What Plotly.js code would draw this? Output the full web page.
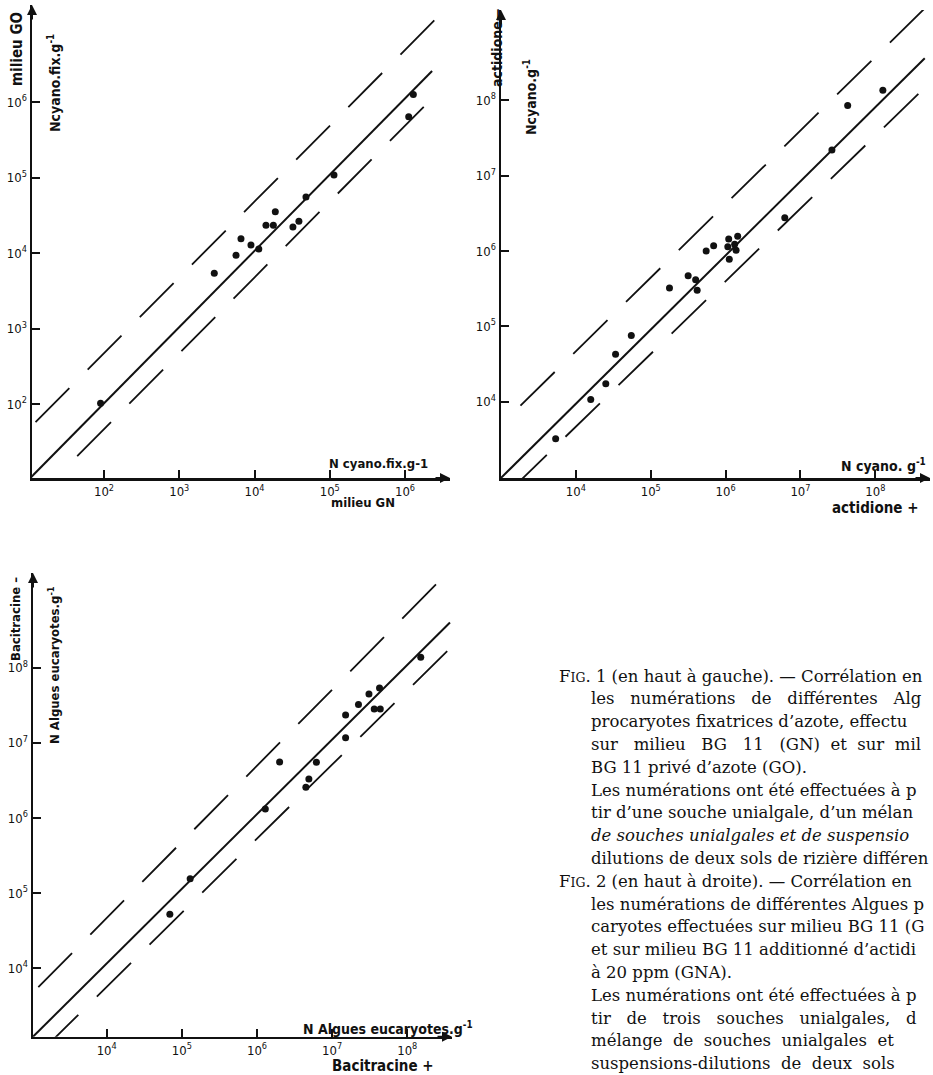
<!DOCTYPE html>
<html><head><meta charset="utf-8">
<script src="https://cdn.plot.ly/plotly-3.0.1.min.js"></script>
<style>html,body{margin:0;padding:0;overflow:hidden;background:#fff}</style>
</head><body>
<div id="chart" style="width:933px;height:1075px"></div>
<script>
// ---------- DATA ----------
// Fig. 1 : milieu GN (x) vs milieu GO (y)
const fig1X = [90, 2920, 5680, 6610, 8970, 11400, 14200, 17800, 18900, 32400, 38900, 48300, 113800, 1.12e6, 1.29e6];
const fig1Y = [102, 5380, 9330, 15500, 12800, 11300, 23300, 23400, 35200, 22100, 26300, 55200, 108000, 638000, 1.26e6];
const fig1SolidX = [10, 2.29e6],  fig1SolidY = [10, 2.57e6];
const fig1UpperX = [12.3, 2.75e6], fig1UpperY = [57.5, 1.35e7];
const fig1LowerX = [44, 2.1e6],   fig1LowerY = [20.4, 1.02e6];

// Fig. 2 : actidione + (x) vs actidione - (y)
const fig2X = [5370, 15800, 25100, 33900, 55000, 178000, 316000, 398000, 417000, 550000, 692000, 1.10e6, 1.45e6, 1.07e6, 1.32e6, 1.38e6, 1.12e6, 6.17e6, 2.63e7, 4.27e7, 1.26e8];
const fig2Y = [3240, 10700, 17400, 42700, 75900, 324000, 468000, 417000, 302000, 1.0e6, 1.17e6, 1.44e6, 1.57e6, 1.14e6, 1.23e6, 1.02e6, 776000, 2.75e6, 2.19e7, 8.51e7, 1.35e8];
const fig2SolidX = [1000, 4.57e8], fig2SolidY = [980, 3.6e8];
const fig2UpperX = [1820, 5.0e8],  fig2UpperY = [8900, 1.8e9];
const fig2LowerX = [1420, 4.7e8],  fig2LowerY = [713, 1.5e8];

// Fig. 3 : Bacitracine + (x) vs Bacitracine - (y)
const fig3X = [69200, 129000, 1.29e6, 2.0e6, 4.47e6, 4.9e6, 6.17e6, 1.51e7, 1.51e7, 2.24e7, 3.09e7, 3.63e7, 4.37e7, 4.27e7, 1.51e8];
const fig3Y = [52500, 155000, 1.32e6, 5.56e6, 2.57e6, 3.31e6, 5.5e6, 1.17e7, 2.34e7, 3.24e7, 4.47e7, 2.82e7, 2.82e7, 5.37e7, 1.38e8];
const fig3SolidX = [1045, 3.7e8], fig3SolidY = [1230, 4.0e8];
const fig3UpperX = [1230, 3.0e8], fig3UpperY = [5600, 1.6e9];
const fig3LowerX = [1470, 4.1e8], fig3LowerY = [857, 2.0e8];

// tick values and labels
const fig1Ticks = [1e2, 1e3, 1e4, 1e5, 1e6];
const fig1TickText = ['10<sup>2</sup>', '10<sup>3</sup>', '10<sup>4</sup>', '10<sup>5</sup>', '10<sup>6</sup>'];
const fig23Ticks = [1e4, 1e5, 1e6, 1e7, 1e8];
const fig23TickText = ['10<sup>4</sup>', '10<sup>5</sup>', '10<sup>6</sup>', '10<sup>7</sup>', '10<sup>8</sup>'];

// caption (visible part, the reference is cropped on the right)
const S = '\u00a0';
const captionLines = [
  'F<span style="font-size:12.5px">IG</span>. 1 (en haut à gauche). — Corrélation en',
  'les' + S.repeat(3) + 'numérations' + S.repeat(3) + 'de' + S.repeat(3) + 'différentes' + S.repeat(3) + 'Alg',
  'procaryotes' + S + 'fixatrices' + S + 'd’azote,' + S + 'effectu',
  'sur' + S.repeat(3) + 'milieu' + S.repeat(3) + 'BG' + S.repeat(3) + '11' + S.repeat(3) + '(GN)' + S + S + 'et' + S + S + 'sur' + S + S + 'mil',
  'BG 11 privé d’azote (GO).',
  'Les numérations ont été effectuées à p',
  'tir d’une souche unialgale, d’un mélan',
  '<i>de souches unialgales et de suspensio</i>',
  'dilutions de deux sols de rizière différen',
  'F<span style="font-size:12.5px">IG</span>. 2 (en haut à droite). — Corrélation en',
  'les numérations de différentes Algues p',
  'caryotes effectuées sur milieu BG 11 (G',
  'et sur milieu BG 11 additionné d’actidi',
  'à 20 ppm (GNA).',
  'Les numérations ont été effectuées à p',
  'tir' + S.repeat(3) + 'de' + S.repeat(3) + 'trois' + S.repeat(3) + 'souches' + S.repeat(3) + 'unialgales,' + S.repeat(3) + 'd',
  'mélange' + S + S + 'de' + S + S + 'souches' + S + S + 'unialgales' + S + S + 'et',
  'suspensions-dilutions' + S + S + 'de' + S + S + 'deux' + S + S + 'sols'
];
const captionIndent = [false, true, true, true, true, true, true, true, true, false, true, true, true, true, true, true, true, true];

// ---------- BUILD ----------
const W = 933, H = 1075;
const px = v => v / W;
const py = v => 1 - v / H;
const sansN = '"Liberation Sans Narrow", "DejaVu Sans Condensed", "Liberation Sans", Arial, sans-serif';
const tickFont = {family: sansN, size: 13, color: '#111'};

function axis(domain, range, tickvals, ticktext, anchor) {
  return {
    type: 'log', domain: domain, range: range, anchor: anchor,
    tickmode: 'array', tickvals: tickvals, ticktext: ticktext,
    ticks: 'inside', ticklen: 8, tickwidth: 2, tickcolor: '#111',
    showline: true, linecolor: '#111', linewidth: 2.5,
    showgrid: false, zeroline: false, mirror: false,
    tickfont: tickFont, fixedrange: true
  };
}

const dashPat = '48px,26px';
function series(xs, ys, xa, ya, solidX, solidY, upX, upY, loX, loY) {
  return [
    {x: solidX, y: solidY, xaxis: xa, yaxis: ya, mode: 'lines', line: {color: '#111', width: 2}, hoverinfo: 'skip'},
    {x: upX, y: upY, xaxis: xa, yaxis: ya, mode: 'lines', line: {color: '#111', width: 1.8, dash: dashPat}, hoverinfo: 'skip'},
    {x: loX, y: loY, xaxis: xa, yaxis: ya, mode: 'lines', line: {color: '#111', width: 1.8, dash: dashPat}, hoverinfo: 'skip'},
    {x: xs, y: ys, xaxis: xa, yaxis: ya, mode: 'markers', marker: {color: '#111', size: 7}, cliponaxis: false}
  ];
}

const data = [].concat(
  series(fig1X, fig1Y, 'x', 'y', fig1SolidX, fig1SolidY, fig1UpperX, fig1UpperY, fig1LowerX, fig1LowerY),
  series(fig2X, fig2Y, 'x2', 'y2', fig2SolidX, fig2SolidY, fig2UpperX, fig2UpperY, fig2LowerX, fig2LowerY),
  series(fig3X, fig3Y, 'x3', 'y3', fig3SolidX, fig3SolidY, fig3UpperX, fig3UpperY, fig3LowerX, fig3LowerY)
);

const ann = [];
function arrows(xr, yr) {
  ann.push({xref: xr + ' domain', yref: yr + ' domain', x: 1, y: 0, ax: -16, ay: 0, text: '', showarrow: true,
            arrowhead: 2, arrowsize: 1, arrowwidth: 2, arrowcolor: '#111'});
  ann.push({xref: xr + ' domain', yref: yr + ' domain', x: 0, y: 1, ax: 0, ay: 16, text: '', showarrow: true,
            arrowhead: 2, arrowsize: 1, arrowwidth: 2, arrowcolor: '#111'});
}
arrows('x', 'y'); arrows('x2', 'y2'); arrows('x3', 'y3');

function label(text, x, y, size, angle) {
  ann.push({xref: 'paper', yref: 'paper', x: px(x), y: py(y), text: '<b>' + text + '</b>', showarrow: false,
            xanchor: 'center', yanchor: 'middle', textangle: angle || 0,
            font: {family: sansN, size: size, color: '#111'}});
}
// Fig 1 labels
label('milieu GO', 17, 49, 15, -90);
label('Ncyano.fix.g<sup>-1</sup>', 54, 83, 14, -90);
label('N cyano.fix.g-1', 378, 463, 13);
label('milieu GN', 363, 502, 13);
// Fig 2 labels
label('actidione—', 497, 48, 14, -90);
label('Ncyano.g<sup>-1</sup>', 530, 97, 14, -90);
label('N cyano. g<sup>-1</sup>', 883, 465, 14);
label('actidione +', 875, 508, 15);
// Fig 3 labels
label('Bacitracine –', 15, 619, 13, -90);
label('N Algues eucaryotes.g<sup>-1</sup>', 54, 665, 13, -90);
label('N Algues eucaryotes.g<sup>-1</sup>', 388, 1028, 14);
label('Bacitracine +', 383, 1066, 15);

// caption
captionLines.forEach((t, i) => {
  ann.push({xref: 'paper', yref: 'paper', x: px(captionIndent[i] ? 589 : 557), y: py(676 + i * 22.8),
            text: t, showarrow: false, xanchor: 'left', yanchor: 'middle',
            font: {family: '"DejaVu Serif", "Liberation Serif", serif', size: 16.5, color: '#111'}});
});

const layout = {
  width: W, height: H, margin: {l: 0, r: 0, t: 0, b: 0},
  paper_bgcolor: '#fff', plot_bgcolor: '#fff', showlegend: false,
  xaxis:  axis([px(32), px(450)],  [1.043, 6.598], fig1Ticks, fig1TickText, 'y'),
  yaxis:  axis([py(478), py(5)],   [1.02, 7.285],  fig1Ticks, fig1TickText, 'x'),
  xaxis2: axis([px(501), px(930)], [3.0, 8.73],    fig23Ticks, fig23TickText, 'y2'),
  yaxis2: axis([py(478), py(10)],  [2.99, 9.195],  fig23Ticks, fig23TickText, 'x2'),
  xaxis3: axis([px(33), px(452)],  [3.019, 8.595], fig23Ticks, fig23TickText, 'y3'),
  yaxis3: axis([py(1036.7), py(573)], [3.09, 9.26], fig23Ticks, fig23TickText, 'x3'),
  annotations: ann
};

Plotly.newPlot('chart', data, layout, {staticPlot: true, displayModeBar: false});
</script>
</body></html>
